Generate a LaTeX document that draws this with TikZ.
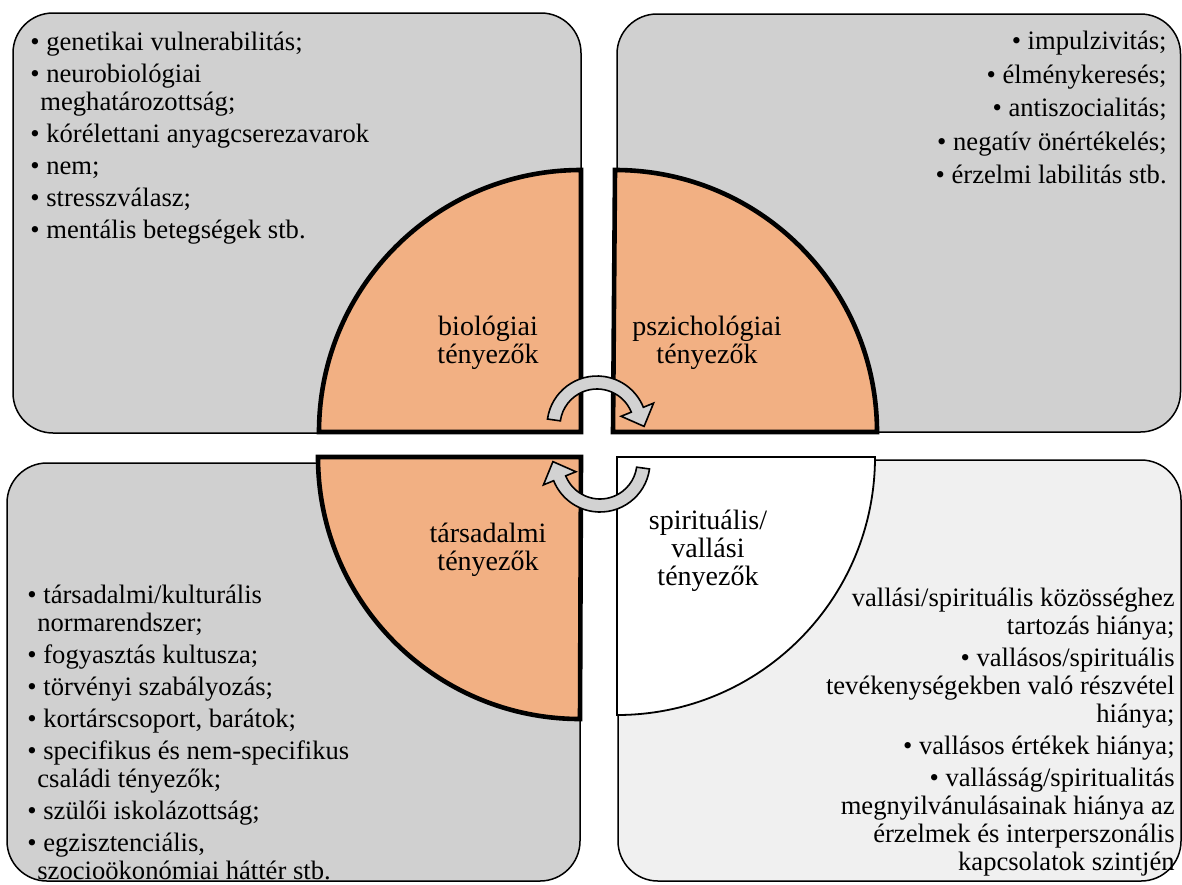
\documentclass[tikz,border=0pt]{standalone}
\usepackage{fontspec}
\setmainfont{Liberation Serif}
\definecolor{boxgray}{RGB}{208,208,208}
\definecolor{boxlight}{RGB}{240,240,240}
\definecolor{wedgeorange}{RGB}{242,176,131}
\definecolor{arrowgray}{RGB}{210,210,210}
\newcommand{\itemind}{\hspace*{5pt}}

\begin{document}
\begin{tikzpicture}[x=0.5pt, y=0.5pt,
        box/.style={draw, line width=0.75pt, rounded corners=20pt},
        wedge/.style={draw, line width=2.3pt, fill=wedgeorange},
        factor/.style={align=center, inner sep=0pt, font=\fontsize{14}{14}\selectfont},
        listtext/.style={inner sep=0pt, font=\fontsize{13.3}{14}\selectfont},
        cyclearrow/.style={draw, fill=arrowgray, line width=0.8pt}]
    \useasboundingbox (0,0) rectangle (1182,-884);

    % the four fields
    \draw[box, fill=boxgray] (13,-13) rectangle (581,-433);
    \draw[box, fill=boxgray] (617,-14) rectangle (1180.5,-432);
    \draw[box, fill=boxgray] (7,-463) rectangle (580,-881);
    \draw[box, fill=boxlight] (618,-460) rectangle (1181,-881);

    % quarter circles in the middle
    \draw[wedge] (581,-432) -- ++(-262,0) arc[start angle=180, end angle=90, radius=262] -- cycle;
    \draw[wedge] (613,-432) -- ++(264,0) arc[start angle=0, end angle=90, radius=262] -- cycle;
    \draw[wedge] (581,-457) -- ++(-263,0) arc[start angle=180, end angle=270, radius=262] -- cycle;
    \draw[wedge, fill=white, line width=0.9pt] (617,-457) -- ++(258,0) arc[start angle=0, end angle=-90, radius=258] -- cycle;

    \node[factor] (bio) at (488,-343) {biológiai\\tényezők};
    \node[factor] (psy) at (707,-343) {pszichológiai\\tényezők};
    \node[factor] (soc) at (488,-550) {társadalmi\\tényezők};
    \node[factor] (spir) at (708,-551) {spirituális/\\vallási\\tényezők};

    % circular arrows
    \begin{scope}[shift={(597,-426)}]
        \filldraw[cyclearrow] (172:50) arc[start angle=172, end angle=22, radius=50] -- (22:61)
            -- ([shift={(-68:18)}]22:43.5) -- (22:26) -- (22:37)
            arc[start angle=22, end angle=172, radius=37] -- cycle;
    \end{scope}
    \begin{scope}[shift={(600,-462)}, rotate=180]
        \filldraw[cyclearrow] (172:50) arc[start angle=172, end angle=22, radius=50] -- (22:61)
            -- ([shift={(-68:18)}]22:43.5) -- (22:26) -- (22:37)
            arc[start angle=22, end angle=172, radius=37] -- cycle;
    \end{scope}

    % lists
    \node[listtext, align=left, anchor=north west] (biolist) at (30,-32) {%
        • genetikai vulnerabilitás;\\[2pt]
        • neurobiológiai\\
        \itemind meghatározottság;\\[2pt]
        • kórélettani anyagcserezavarok\\[2pt]
        • nem;\\[2pt]
        • stresszválasz;\\[2pt]
        • mentális betegségek stb.};
    \node[listtext, align=right, anchor=north east] (psylist) at (1167,-31) {%
        • impulzivitás;\\[2.7pt]
        • élménykeresés;\\[2.7pt]
        • antiszocialitás;\\[2.7pt]
        • negatív önértékelés;\\[2.7pt]
        • érzelmi labilitás stb.};
    \node[listtext, align=left, anchor=north west] (soclist) at (27,-585) {%
        • társadalmi/kulturális\\
        \itemind normarendszer;\\[2pt]
        • fogyasztás kultusza;\\[2pt]
        • törvényi szabályozás;\\[2pt]
        • kortárscsoport, barátok;\\[2pt]
        • specifikus és nem-specifikus\\
        \itemind családi tényezők;\\[2pt]
        • szülői iskolázottság;\\[2pt]
        • egzisztenciális,\\
        \itemind szocioökonómiai háttér stb.};
    \node[listtext, align=right, anchor=north east] (spirlist) at (1175,-588) {%
        vallási/spirituális közösséghez\\
        tartozás hiánya;\\[2pt]
        • vallásos/spirituális\\
        tevékenységekben való részvétel\\
        hiánya;\\[2pt]
        • vallásos értékek hiánya;\\[2pt]
        • vallásság/spiritualitás\\
        megnyilvánulásainak hiánya az\\
        érzelmek és interperszonális\\
        kapcsolatok szintjén};
\end{tikzpicture}
\end{document}
